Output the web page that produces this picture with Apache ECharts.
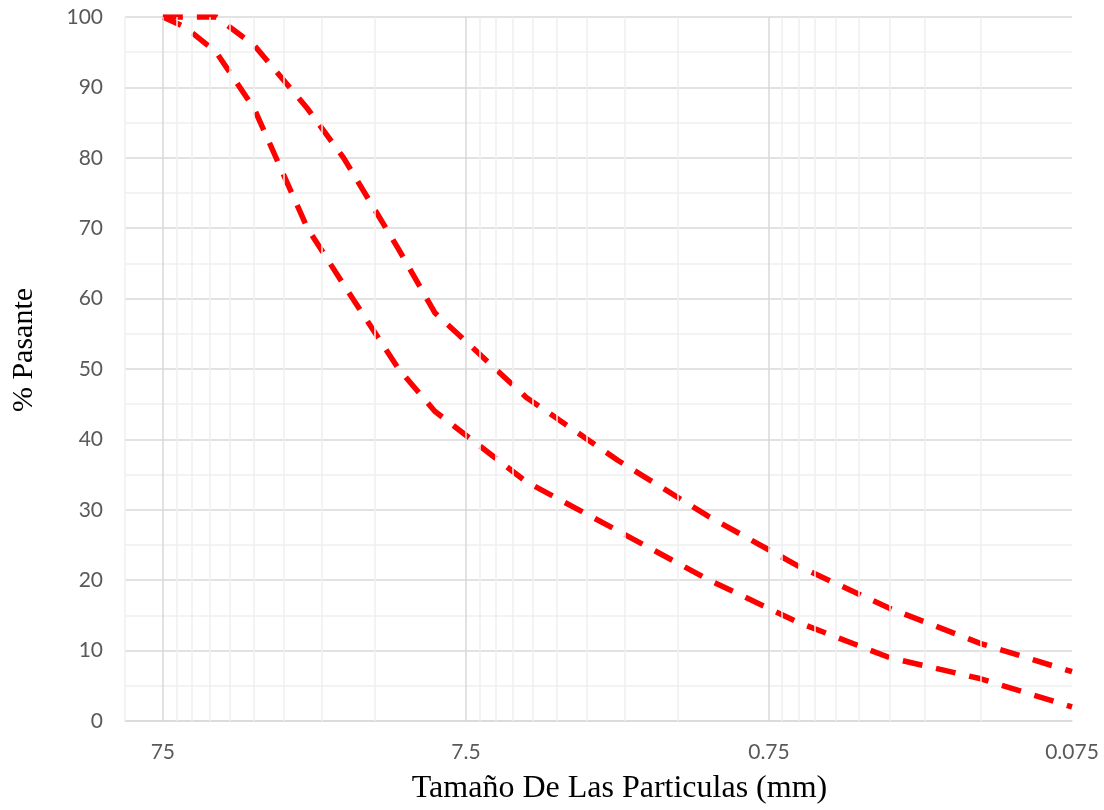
<!DOCTYPE html>
<html>
<head>
<meta charset="utf-8">
<script src="https://cdn.jsdelivr.net/npm/echarts@6/dist/echarts.min.js"></script>
<style>html,body{margin:0;padding:0;background:#fff;overflow:hidden;}#chart{width:1104px;height:810px;}</style>
</head>
<body>
<div id="chart"></div>
<script>
// Particle sizes (mm) and % passing for the two band limits
var upperSizes = [75, 50, 37.5, 25, 19, 12.5, 9.5, 4.75, 2.36, 1.18, 0.6, 0.3, 0.15, 0.075];
var upperPass  = [100, 100, 96, 87, 80, 67, 58, 46, 37, 29, 22, 16, 11, 7];
var lowerSizes = [75, 63, 50, 37.5, 25, 19, 12.5, 9.5, 4.75, 2.36, 1.18, 0.6, 0.3, 0.15, 0.075];
var lowerPass  = [100, 98.5, 95, 87, 70, 62, 50, 44, 34, 27, 20, 14, 9, 6, 2];

// Axis ticks
var majorTicks = [75, 7.5, 0.75, 0.075];
var majorTickLabels = ['75', '7.5', '0.75', '0.075'];
var minorMultipliers = [2, 3, 4, 5, 6, 7, 8, 9];
var edgeTicks = [100];
var yTicks = [0, 10, 20, 30, 40, 50, 60, 70, 80, 90, 100];

var xTitle = 'Tamaño De Las Particulas (mm)';
var yTitle = '% Pasante';

function pairs(xs, ys) { return xs.map(function (x, i) { return [x, ys[i]]; }); }

var minorTicks = edgeTicks.slice();
[0.075, 0.75, 7.5].forEach(function (b) {
  minorMultipliers.forEach(function (m) { minorTicks.push(+(b * m).toPrecision(6)); });
});

var gridLines = [];
minorTicks.forEach(function (v) {
  gridLines.push({ xAxis: v, lineStyle: { color: '#efefef', width: 1.5, type: 'solid' } });
});
majorTicks.forEach(function (v) {
  gridLines.push({ xAxis: v, lineStyle: { color: '#d9d9d9', width: 1.5, type: 'solid' } });
});

var chart = echarts.init(document.getElementById('chart'), null, { renderer: 'canvas', width: 1104, height: 810 });
var dash = { color: '#ff0000', width: 5.5, type: [20, 14], cap: 'butt' };

chart.setOption({
  animation: false,
  backgroundColor: '#ffffff',
  grid: { left: 125, width: 947, top: 17, height: 708, containLabel: false },
  xAxis: {
    type: 'log',
    logBase: 10,
    min: 0.075,
    max: 100,
    inverse: true,
    name: xTitle,
    nameLocation: 'middle',
    nameGap: 52,
    nameTextStyle: { fontFamily: 'Liberation Serif', fontSize: 32, color: '#000', padding: [0, 0, 0, 42] },
    axisLine: { show: true, lineStyle: { color: '#d9d9d9', width: 1.5 } },
    axisTick: { show: false, customValues: majorTicks },
    splitLine: { show: false },
    minorTick: { show: false },
    minorSplitLine: { show: false },
    axisLabel: {
      customValues: majorTicks,
      margin: 21,
      fontFamily: 'Lato',
      fontSize: 21,
      color: '#595959',
      formatter: function (v) {
        var best = 0, bd = Infinity;
        majorTicks.forEach(function (t, i) {
          var d = Math.abs(Math.log(v) - Math.log(t));
          if (d < bd) { bd = d; best = i; }
        });
        return majorTickLabels[best];
      }
    }
  },
  yAxis: {
    type: 'value',
    min: yTicks[0],
    max: yTicks[yTicks.length - 1],
    interval: 10,
    name: yTitle,
    nameLocation: 'middle',
    nameGap: 86,
    nameRotate: 90,
    nameTextStyle: { fontFamily: 'Liberation Serif', fontSize: 30, color: '#000', padding: [0, 0, 0, 38] },
    axisLine: { show: false },
    axisTick: { show: false },
    axisLabel: { margin: 22, fontFamily: 'Lato', fontSize: 21, color: '#595959' },
    splitLine: { show: true, lineStyle: { color: '#d9d9d9', width: 1.5 } },
    minorTick: { show: false, splitNumber: 2 },
    minorSplitLine: { show: true, lineStyle: { color: '#efefef', width: 1.5 } }
  },
  series: [
    {
      type: 'line',
      name: 'grid',
      data: [],
      z: 0,
      silent: true,
      markLine: {
        silent: true,
        symbol: ['none', 'none'],
        label: { show: false },
        animation: false,
        data: gridLines
      }
    },
    {
      type: 'line',
      name: 'Límite superior',
      data: pairs(upperSizes, upperPass),
      showSymbol: false,
      symbol: 'none',
      lineStyle: dash,
      z: 3
    },
    {
      type: 'line',
      name: 'Límite inferior',
      data: pairs(lowerSizes, lowerPass),
      showSymbol: false,
      symbol: 'none',
      lineStyle: dash,
      z: 3
    }
  ]
});
</script>
</body>
</html>
